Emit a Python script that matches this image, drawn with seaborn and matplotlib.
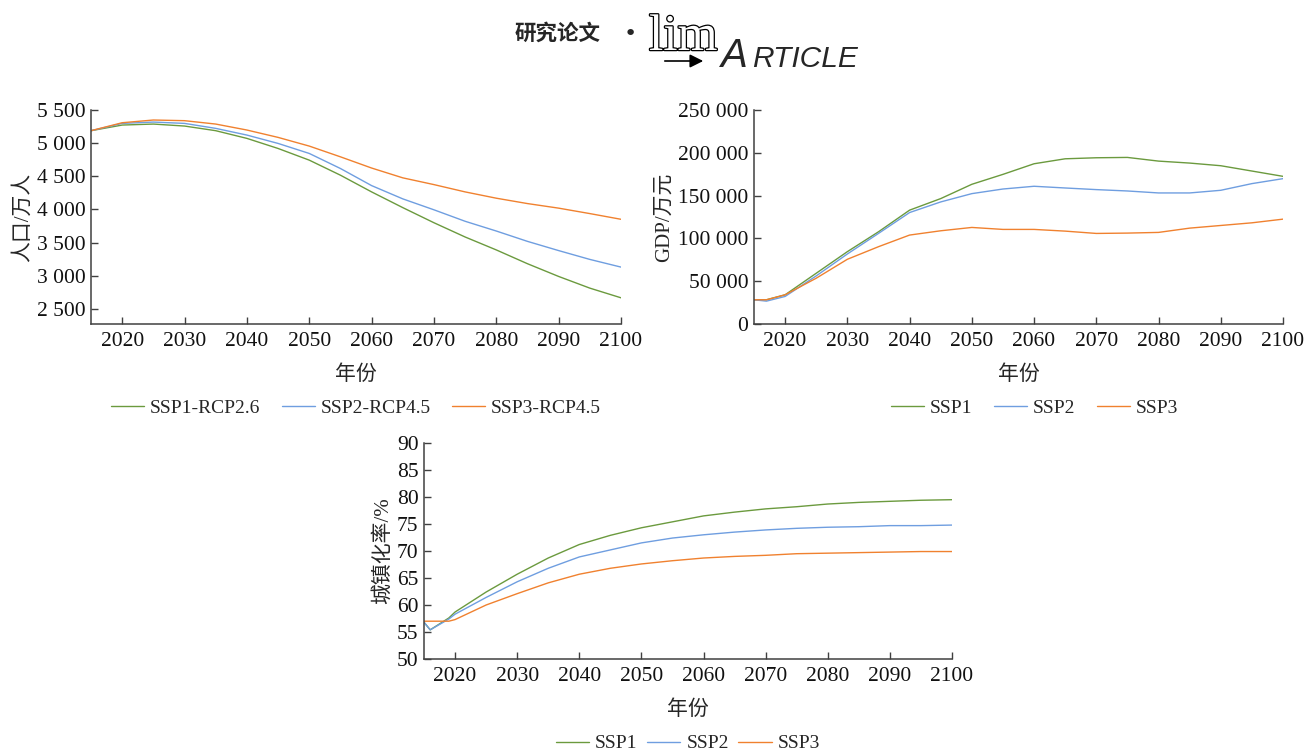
import pandas as pd
import numpy as np
import matplotlib
matplotlib.use('Agg')
import matplotlib.pyplot as plt
import matplotlib.patheffects as pe
from matplotlib.ticker import FuncFormatter, MultipleLocator
import seaborn as sns

# population (10^4 persons)
pop_years = [2015, 2020, 2025, 2030, 2035, 2040, 2045, 2050, 2055, 2060,
             2065, 2070, 2075, 2080, 2085, 2090, 2095, 2100]
pop_ssp1 = [5188, 5273, 5288, 5258, 5188, 5072, 4920, 4744, 4517, 4265,
            4028, 3800, 3585, 3390, 3182, 2990, 2814, 2668]
pop_ssp2 = [5188, 5298, 5318, 5298, 5223, 5122, 4996, 4845, 4618, 4360,
            4160, 3995, 3822, 3675, 3519, 3380, 3247, 3131]
pop_ssp3 = [5188, 5308, 5349, 5339, 5288, 5198, 5087, 4956, 4794, 4625,
            4477, 4375, 4265, 4170, 4089, 4020, 3938, 3852]
pop_labels = ['SSP1-RCP2.6', 'SSP2-RCP4.5', 'SSP3-RCP4.5']

# GDP (10^4 yuan)
gdp_years = [2015, 2017, 2020, 2025, 2030, 2035, 2040, 2045, 2050, 2055, 2060,
             2065, 2070, 2075, 2080, 2085, 2090, 2095, 2100]
gdp_ssp1 = [28300, 28300, 34100, 59300, 84500, 107700, 133000, 146500, 163200,
            174800, 187200, 193000, 194200, 194600, 190300, 188000, 184900,
            178700, 172500]
gdp_ssp2 = [28300, 26700, 32200, 56200, 81800, 105800, 130200, 142600, 152300,
            157700, 160900, 158900, 157000, 155400, 153100, 153100, 156200,
            164000, 169800]
gdp_ssp3 = [28300, 28300, 34100, 53500, 75600, 90300, 103900, 108900, 112800,
            110500, 110500, 108500, 105800, 106200, 107000, 112000, 115100,
            118200, 122500]

# urbanization rate (%)
urb_years = [2015, 2016, 2019, 2020, 2025, 2030, 2035, 2040, 2045, 2050, 2055,
             2060, 2065, 2070, 2075, 2080, 2085, 2090, 2095, 2100]
urb_ssp1 = [56.8, 55.4, 57.6, 58.7, 62.4, 65.7, 68.7, 71.2, 72.9, 74.3, 75.4,
            76.5, 77.2, 77.8, 78.2, 78.7, 79.0, 79.2, 79.4, 79.5]
urb_ssp2 = [56.8, 55.4, 57.4, 58.3, 61.4, 64.3, 66.8, 68.9, 70.2, 71.5, 72.4,
            73.0, 73.5, 73.9, 74.2, 74.4, 74.5, 74.7, 74.7, 74.8]
urb_ssp3 = [57.0, 57.0, 57.0, 57.3, 60.0, 62.1, 64.1, 65.7, 66.8, 67.6, 68.2,
            68.7, 69.0, 69.2, 69.5, 69.6, 69.7, 69.8, 69.9, 69.9]
ssp_labels = ['SSP1', 'SSP2', 'SSP3']

colors = ['#6b9a3e', '#6f9ee0', '#f0812f']


def long_df(years, series, labels):
    rows = []
    for vals, lab in zip(series, labels):
        for y, v in zip(years, vals):
            rows.append({'year': y, 'value': v, 'scenario': lab})
    return pd.DataFrame(rows)


sns.set_theme(style='ticks')
plt.rcParams['font.family'] = ['Liberation Serif', 'Noto Sans CJK SC']
plt.rcParams['axes.unicode_minus'] = False

fig = plt.figure(figsize=(13.16, 7.53), dpi=100)
W, H = 1316, 753


def make_ax(l, t, r, b):
    return fig.add_axes([l / W, 1 - b / H, (r - l) / W, (b - t) / H])


ax1 = make_ax(91, 110, 621, 324)
ax2 = make_ax(754, 110, 1283, 324)
ax3 = make_ax(424, 443, 952, 659)

space_fmt = FuncFormatter(lambda v, p: f"{int(round(v)):,}".replace(",", " "))

panels = [
    (ax1, long_df(pop_years, [pop_ssp1, pop_ssp2, pop_ssp3], pop_labels), pop_labels,
     '人口/万人', (2273, 5500), 500, space_fmt),
    (ax2, long_df(gdp_years, [gdp_ssp1, gdp_ssp2, gdp_ssp3], ssp_labels), ssp_labels,
     'GDP/万元', (0, 250000), 50000, space_fmt),
    (ax3, long_df(urb_years, [urb_ssp1, urb_ssp2, urb_ssp3], ssp_labels), ssp_labels,
     '城镇化率/%', (50, 90), 5, None),
]

for ax, df, labels, ylab, ylim, step, fmt in panels:
    sns.lineplot(data=df, x='year', y='value', hue='scenario', hue_order=labels,
                 palette=colors, linewidth=1.0, ax=ax, legend=True)
    ax.set_xlim(2015, 2100)
    ax.set_ylim(*ylim)
    ax.set_xticks(range(2020, 2101, 10))
    ax.yaxis.set_major_locator(MultipleLocator(step))
    if fmt is not None:
        ax.yaxis.set_major_formatter(fmt)
    sns.despine(ax=ax)
    for s in ['left', 'bottom']:
        ax.spines[s].set_color('#404040')
        ax.spines[s].set_linewidth(1.1)
    ax.tick_params(direction='in', length=5, width=1, color='#404040',
                   labelsize=15.5, labelcolor='#111111')
    ax.tick_params(axis='x', pad=6)
    ax.tick_params(axis='y', pad=4)
    ax.set_xlabel('年份', fontsize=15, labelpad=10)
    ax.set_ylabel(ylab, fontsize=15, labelpad=3)
    ax.grid(False)

leg_kw = dict(loc='upper center', ncol=3, frameon=False, fontsize=14,
              handlelength=1.7, handletextpad=0.3)
ax1.legend(bbox_to_anchor=(0.5, -0.27), columnspacing=1.1, **leg_kw)
ax2.legend(bbox_to_anchor=(0.53, -0.27), columnspacing=1.1, **leg_kw)
ax3.legend(bbox_to_anchor=(0.5, -0.27), columnspacing=0.5, **leg_kw)

# header logo
fig.text(515 / W, 1 - 40 / H, '研究论文', fontsize=15.5, fontweight='bold',
         family=['Noto Sans CJK SC', 'DejaVu Sans'], ha='left', va='baseline')
fig.text(624 / W, 1 - 40 / H, '•', fontsize=16, family='DejaVu Sans',
         ha='left', va='baseline')
fig.text(649 / W, 1 - 50 / H, 'lim', fontsize=37, color='white',
         family='Liberation Serif', ha='left', va='baseline',
         path_effects=[pe.withStroke(linewidth=1.8, foreground='black')])
fig.add_artist(matplotlib.patches.FancyArrowPatch(
    (662 / W, 1 - 61 / H), (706 / W, 1 - 61 / H), transform=fig.transFigure,
    arrowstyle='-|>,head_length=8,head_width=4', color='black', lw=1.2,
    mutation_scale=1))
fig.text(721 / W, 1 - 67 / H, 'A', fontsize=29, style='italic',
         family='Liberation Sans', ha='left', va='baseline')
fig.text(752 / W, 1 - 67 / H, 'RTICLE', fontsize=21.5, style='italic',
         family='Liberation Sans', ha='left', va='baseline')

fig.savefig('out.png', dpi=100)
